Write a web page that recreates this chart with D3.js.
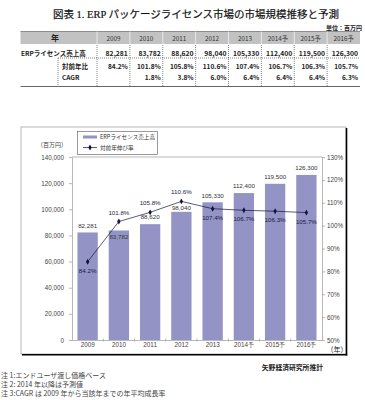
<!DOCTYPE html>
<meta charset="utf-8">
<style>
  body { margin: 0; background: #fff; }
  svg { display: block; }
  .ax text { font-family: "Liberation Sans", Arial, sans-serif; font-size: 6.3px; fill: #444; }
  .ax path, .ax line { stroke: #999; stroke-width: 0.7; }
  .jp { font-family: "Noto Sans CJK JP", sans-serif; }
  .tbl { font-family: "Noto Sans CJK JP", "Liberation Sans", sans-serif; fill: #222; }
</style>
<body>
<script src="https://cdnjs.cloudflare.com/ajax/libs/d3/7.8.5/d3.min.js"></script>
<script>

// data
var years = ['2009', '2010', '2011', '2012', '2013', '2014予', '2015予', '2016予'];
var sales = [82281, 83782, 88620, 98040, 105330, 112400, 119500, 126300];
var yoy = [84.2, 101.8, 105.8, 110.6, 107.4, 106.7, 106.3, 105.7];
var cagr = [null, 1.8, 3.8, 6.0, 6.4, 6.4, 6.4, 6.3];
var leftTicks = [0, 20000, 40000, 60000, 80000, 100000, 120000, 140000];
var rightTicks = [50, 60, 70, 80, 90, 100, 110, 120, 130];
var notes = ['注 1:エンドユーザ渡し価格ベース', '注 2: 2014 年以降は予測値', '注 3:CAGR は 2009 年から当該年までの年平均成長率'];

// label placement (Excel put some of them under the point)
var yoyBelow = [true, false, false, false, true, true, true, true];
var barLabelShift = [-7, 6, -7, -4, -7, -7, -7, -7];

var barColor = '#9393c6';
var lineColor = '#14143a';
var fmt = d3.format(',');

var svg = d3.select('body').append('svg').attr('width', 365).attr('height', 400);

// title
svg.append('text').attr('x', 196).attr('y', 18).attr('text-anchor', 'middle')
  .style('font-family', '"Liberation Serif", "Noto Sans CJK JP", serif')
  .style('font-size', '10.5px').style('font-weight', 'normal').style('fill', '#111')
  .style('stroke', '#111').style('stroke-width', 0.2)
  .text('図表 1.  ERP パッケージライセンス市場の市場規模推移と予測');

// ---- table ----
var tx = d3.scaleBand().domain(years).range([97, 360]);
var tbl = svg.append('g');

tbl.append('text').attr('class', 'tbl').attr('x', 362).attr('y', 30).attr('text-anchor', 'end')
  .style('font-size', '6px').style('font-weight', 'bold').text('単位：百万円');

tbl.append('rect').attr('x', 20.5).attr('y', 31.5).attr('width', 339.5).attr('height', 12.5).attr('fill', '#c2c2c2');
tbl.append('line').attr('x1', 20.5).attr('x2', 360).attr('y1', 31.5).attr('y2', 31.5).attr('stroke', '#777').attr('stroke-width', 0.8);
tbl.selectAll('.hsep').data(years).enter().append('line')
  .attr('x1', function (d) { return tx(d); }).attr('x2', function (d) { return tx(d); })
  .attr('y1', 31.5).attr('y2', 44).attr('stroke', '#f2f2f2').attr('stroke-width', 0.8);
tbl.append('text').attr('class', 'tbl').attr('x', 55).attr('y', 41).attr('text-anchor', 'middle')
  .style('font-size', '8px').style('font-weight', 'bold').text('年');
tbl.selectAll('.hy').data(years).enter().append('text').attr('class', 'tbl')
  .attr('x', function (d) { return tx(d) + tx.bandwidth() / 2; }).attr('y', 40.5)
  .attr('text-anchor', 'middle').style('font-size', '6.3px').style('fill', '#333').text(function (d) { return d; });

// dotted separators
tbl.selectAll('.vsep').data(years).enter().append('line')
  .attr('x1', function (d) { return tx(d); }).attr('x2', function (d) { return tx(d); })
  .attr('y1', 45).attr('y2', 86).attr('stroke', '#333').attr('stroke-width', 0.6).attr('stroke-dasharray', '1,1');
tbl.append('line').attr('x1', 58).attr('x2', 58).attr('y1', 58).attr('y2', 86)
  .attr('stroke', '#333').attr('stroke-width', 0.6).attr('stroke-dasharray', '1,1');
tbl.append('line').attr('x1', 58).attr('x2', 360).attr('y1', 58).attr('y2', 58)
  .attr('stroke', '#333').attr('stroke-width', 0.6).attr('stroke-dasharray', '1,1');
tbl.append('line').attr('x1', 20.5).attr('x2', 360).attr('y1', 86.5).attr('y2', 86.5).attr('stroke', '#666').attr('stroke-width', 1);

tbl.append('text').attr('class', 'tbl').attr('x', 21).attr('y', 55.5)
  .style('font-size', '6.5px').style('font-weight', 'bold').text('ERPライセンス売上高');
tbl.append('text').attr('class', 'tbl').attr('x', 62).attr('y', 69)
  .style('font-size', '6.5px').style('font-weight', 'bold').text('対前年比');
tbl.append('text').attr('class', 'tbl').attr('x', 62).attr('y', 80)
  .style('font-size', '6.5px').style('font-weight', 'bold').text('CAGR');

tbl.selectAll('.v1').data(sales).enter().append('text').attr('class', 'tbl')
  .attr('x', function (d, i) { return tx(years[i]) + tx.bandwidth() - 2; }).attr('y', 55.5)
  .attr('text-anchor', 'end').style('font-size', '6.8px').style('font-weight', 'bold')
  .text(function (d) { return fmt(d); });
tbl.selectAll('.v2').data(yoy).enter().append('text').attr('class', 'tbl')
  .attr('x', function (d, i) { return tx(years[i]) + tx.bandwidth() - 2; }).attr('y', 69)
  .attr('text-anchor', 'end').style('font-size', '6.5px').style('font-weight', 'bold')
  .text(function (d) { return d.toFixed(1) + '%'; });
tbl.selectAll('.v3').data(cagr).enter().append('text').attr('class', 'tbl')
  .attr('x', function (d, i) { return tx(years[i]) + tx.bandwidth() - 2; }).attr('y', 80)
  .attr('text-anchor', 'end').style('font-size', '6.5px').style('font-weight', 'bold')
  .text(function (d) { return d == null ? '' : d.toFixed(1) + '%'; });

// ---- chart ----
// frame with shadow
svg.append('rect').attr('x', 21).attr('y', 127).attr('width', 325).attr('height', 227)
  .attr('fill', '#fff').attr('stroke', '#999').attr('stroke-width', 0.7);
svg.append('line').attr('x1', 346.5).attr('x2', 346.5).attr('y1', 128).attr('y2', 355.5).attr('stroke', '#000').attr('stroke-width', 1.6);
svg.append('line').attr('x1', 22).attr('x2', 347.2).attr('y1', 354.8).attr('y2', 354.8).attr('stroke', '#000').attr('stroke-width', 1.6);

var x = d3.scaleBand().domain(years).range([72, 322]).paddingInner(0.35).paddingOuter(0.175);
var yL = d3.scaleLinear().domain([0, 140000]).range([340, 157]);
var yR = d3.scaleLinear().domain([50, 130]).range([340, 157]);

// plot border (top)
svg.append('line').attr('x1', 72).attr('x2', 322).attr('y1', 157).attr('y2', 157).attr('stroke', '#999').attr('stroke-width', 0.7);

svg.append('g').attr('class', 'ax').attr('transform', 'translate(72,0)')
  .call(d3.axisLeft(yL).tickValues(leftTicks).tickSize(3).tickSizeOuter(0).tickPadding(5).tickFormat(fmt));
svg.append('g').attr('class', 'ax').attr('transform', 'translate(322,0)')
  .call(d3.axisRight(yR).tickValues(rightTicks).tickSize(3).tickSizeOuter(0).tickPadding(2)
    .tickFormat(function (d) { return d + '%'; }));
var xa = svg.append('g').attr('class', 'ax').attr('transform', 'translate(0,340)')
  .call(d3.axisBottom(x).tickSize(0).tickSizeOuter(0).tickPadding(3));
xa.selectAll('.bnd').data(years.slice(1)).enter().append('line')
  .attr('x1', function (d) { return x(d) - x.step() * x.paddingInner() / 2; })
  .attr('x2', function (d) { return x(d) - x.step() * x.paddingInner() / 2; })
  .attr('y1', -1.5).attr('y2', 1.5).attr('stroke', '#777').attr('stroke-width', 0.6);

// bars
svg.append('g').selectAll('rect').data(sales).enter().append('rect')
  .attr('x', function (d, i) { return x(years[i]); })
  .attr('y', function (d) { return yL(d); })
  .attr('width', x.bandwidth())
  .attr('height', function (d) { return yL(0) - yL(d); })
  .attr('fill', barColor);

svg.append('g').selectAll('text').data(sales).enter().append('text')
  .attr('x', function (d, i) { return x(years[i]) + x.bandwidth() / 2; })
  .attr('y', function (d, i) { return yL(d) + barLabelShift[i] + 2.2; })
  .attr('text-anchor', 'middle')
  .style('font-family', '"Liberation Sans", Arial, sans-serif').style('font-size', '6.2px').style('fill', '#333')
  .text(function (d) { return fmt(d); });

// line
var line = d3.line()
  .x(function (d, i) { return x(years[i]) + x.bandwidth() / 2; })
  .y(function (d) { return yR(d); });
svg.append('path').datum(yoy).attr('d', line).attr('fill', 'none').attr('stroke', lineColor).attr('stroke-width', 0.7);
svg.append('g').selectAll('path').data(yoy).enter().append('path')
  .attr('transform', function (d, i) { return 'translate(' + (x(years[i]) + x.bandwidth() / 2) + ',' + yR(d) + ')'; })
  .attr('d', d3.symbol(d3.symbolDiamond).size(10)).attr('fill', lineColor);
svg.append('g').selectAll('text').data(yoy).enter().append('text')
  .attr('x', function (d, i) { return x(years[i]) + x.bandwidth() / 2; })
  .attr('y', function (d, i) { return yR(d) + (yoyBelow[i] ? 11 : -7); })
  .attr('text-anchor', 'middle')
  .style('font-family', '"Liberation Sans", Arial, sans-serif').style('font-size', '6.2px').style('fill', '#1c1c44')
  .text(function (d) { return d.toFixed(1) + '%'; });

// unit labels
svg.append('text').attr('class', 'jp').attr('x', 52).attr('y', 147).attr('text-anchor', 'middle')
  .style('font-size', '6px').style('fill', '#444').text('（百万円）');
svg.append('text').attr('class', 'jp').attr('x', 337).attr('y', 351.5).attr('text-anchor', 'middle')
  .style('font-size', '7px').style('fill', '#222').text('（年）');

// legend
var lg = svg.append('g');
lg.append('rect').attr('x', 77.5).attr('y', 131.5).attr('width', 80).attr('height', 23)
  .attr('fill', '#fff').attr('stroke', '#555').attr('stroke-width', 0.6);
lg.append('rect').attr('x', 83).attr('y', 135.5).attr('width', 14).attr('height', 3).attr('fill', barColor);
lg.append('line').attr('x1', 83).attr('x2', 97).attr('y1', 147.5).attr('y2', 147.5).attr('stroke', lineColor).attr('stroke-width', 0.7);
lg.append('path').attr('transform', 'translate(90,147.5)').attr('d', d3.symbol(d3.symbolDiamond).size(10)).attr('fill', lineColor);
lg.append('text').attr('class', 'jp').attr('x', 100).attr('y', 139).style('font-size', '5.6px').style('fill', '#333').text('ERPライセンス売上高');
lg.append('text').attr('class', 'jp').attr('x', 100).attr('y', 149.5).style('font-size', '5.6px').style('fill', '#333').text('対前年伸び率');

// source + notes
svg.append('text').attr('class', 'jp').attr('x', 323).attr('y', 369.5).attr('text-anchor', 'end')
  .style('font-size', '6.8px').style('font-weight', 'bold').style('fill', '#222').text('矢野経済研究所推計');
svg.append('g').selectAll('text').data(notes).enter().append('text').attr('class', 'jp')
  .attr('x', 1).attr('y', function (d, i) { return 377.5 + i * 9; })
  .style('font-size', '7px').style('fill', '#444').text(function (d) { return d; });

</script>
</body>
</html>
